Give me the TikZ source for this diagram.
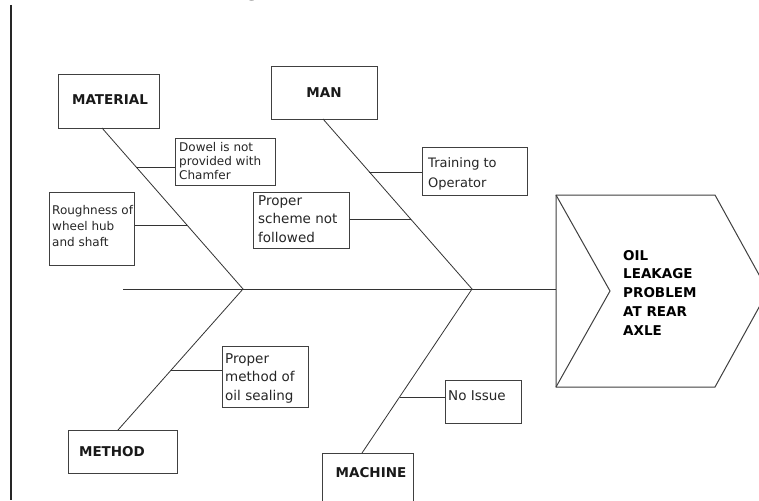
\documentclass[tikz,border=0pt]{standalone}
\usepackage{fontspec}
\setmainfont{DejaVu Sans}
\newfontfamily\titlefont{Liberation Serif}
\usetikzlibrary{calc}
\begin{document}
\begin{tikzpicture}[x=1pt,y=-1pt,
  line/.style={draw=black!80, line width=0.8pt},
  box/.style={draw=black!75, line width=1pt, inner sep=0pt},
  cause/.style={font=\bfseries\fontsize{13.5}{16}\selectfont, inner sep=0pt, text=black!90},
  note/.style={align=left, inner sep=0pt, anchor=north west, text=black!85},
  fs12/.style={font=\fontsize{12}{14}\selectfont},
  fs12b/.style={font=\fontsize{12}{16}\selectfont},
  fs13/.style={font=\fontsize{13}{20}\selectfont},
  fs13h/.style={font=\fontsize{13.5}{18.5}\selectfont},
]
\useasboundingbox (0,0) rectangle (759,500);
\fill[white] (0,0) rectangle (759,500);

% cut-off title fragment and left rule
\node[font=\titlefont\bfseries\fontsize{24}{24}\selectfont, anchor=base, inner sep=0pt] (titleg) at (252,-4) {g};
\coordinate (ruleTop) at (11,5);
\coordinate (ruleBot) at (11,500);
\draw[draw=black!85, line width=2pt] (ruleTop) -- (ruleBot);

% category boxes
\node[box, minimum width=101pt, minimum height=53pt] (matBox) at (108.5,101.5) {};
\node[box, minimum width=106pt, minimum height=52pt] (manBox) at (324,93) {};
\node[box, minimum width=109pt, minimum height=43pt] (metBox) at (122.5,451.5) {};
\node[box, minimum width=91pt, minimum height=57pt] (macBox) at (367.5,481.5) {};
\node[cause] (matT) at (110,100) {MATERIAL};
\node[cause] (manT) at (324,93) {MAN};
\node[cause] (metT) at (112,452) {METHOD};
\node[cause] (macT) at (371,473) {MACHINE};

% cause note boxes
\node[box, minimum width=100pt, minimum height=47pt] (dowBox) at (225,161.5) {};
\node[box, minimum width=85pt, minimum height=73pt] (rouBox) at (91.5,228.5) {};
\node[box, minimum width=105pt, minimum height=48pt] (traBox) at (474.5,171) {};
\node[box, minimum width=96pt, minimum height=56pt] (schBox) at (301,220) {};
\node[box, minimum width=86pt, minimum height=61pt] (mthBox) at (265,376.5) {};
\node[box, minimum width=76pt, minimum height=43pt] (noBox) at (483,401.5) {};

\node[note, fs12] (dowT) at (179,142) {Dowel is not\\provided with\\Chamfer};
\node[note, fs12b] (rouT) at (52,205) {Roughness of\\wheel hub\\and shaft};
\node[note, fs13] (traT) at (428,157) {Training to\\Operator};
\node[note, fs13h] (schT) at (258,195) {Proper\\scheme not\\followed};
\node[note, fs13h] (mthT) at (225,353) {Proper\\method of\\oil sealing};
\node[note, fs13h] (noT) at (448,390) {No Issue};

% effect head
\coordinate (effNW) at (556,195);
\coordinate (effNE) at (715,195);
\coordinate (effTip) at (768,291);
\coordinate (effSE) at (715,387);
\coordinate (effSW) at (556,387);
\coordinate (effNotch) at (610,291);
\coordinate (effL) at (556,289);
\draw[box] (effNW) -- (effNE) -- (effTip) -- (effSE) -- (effSW) -- cycle;
\draw[box] (effNW) -- (effNotch) -- (effSW);
\node[note, font=\bfseries\fontsize{13.5}{18.75}\selectfont, text=black] (effT) at (623,250) {OIL\\LEAKAGE\\PROBLEM\\AT REAR\\AXLE};

% spines
\coordinate (tail) at (123,289);
\coordinate (j1) at (243,289);
\coordinate (j2) at (472,289);
\coordinate (matTop) at (102,128);
\coordinate (manTop) at (323,119);
\coordinate (metTop) at (118,430);
\coordinate (macTop) at (362,453);
\draw[line] (tail) -- (effL);
\draw[line] (matTop) -- (j1) -- (metTop);
\draw[line] (manTop) -- (j2) -- (macTop);

% branch points
\coordinate (bDow) at ($(matTop)!0.2422!(j1)$);
\coordinate (bRou) at ($(matTop)!0.6025!(j1)$);
\coordinate (bTra) at ($(manTop)!0.3118!(j2)$);
\coordinate (bSch) at ($(manTop)!0.5882!(j2)$);
\coordinate (bMth) at ($(j1)!0.5745!(metTop)$);
\coordinate (bNo) at ($(j2)!0.6585!(macTop)$);
\draw[line] (bDow) -- (bDow -| dowBox.west);
\draw[line] (bRou) -- (bRou -| rouBox.east);
\draw[line] (bTra) -- (bTra -| traBox.west);
\draw[line] (bSch) -- (bSch -| schBox.east);
\draw[line] (bMth) -- (bMth -| mthBox.west);
\draw[line] (bNo) -- (bNo -| noBox.west);
\end{tikzpicture}
\end{document}
